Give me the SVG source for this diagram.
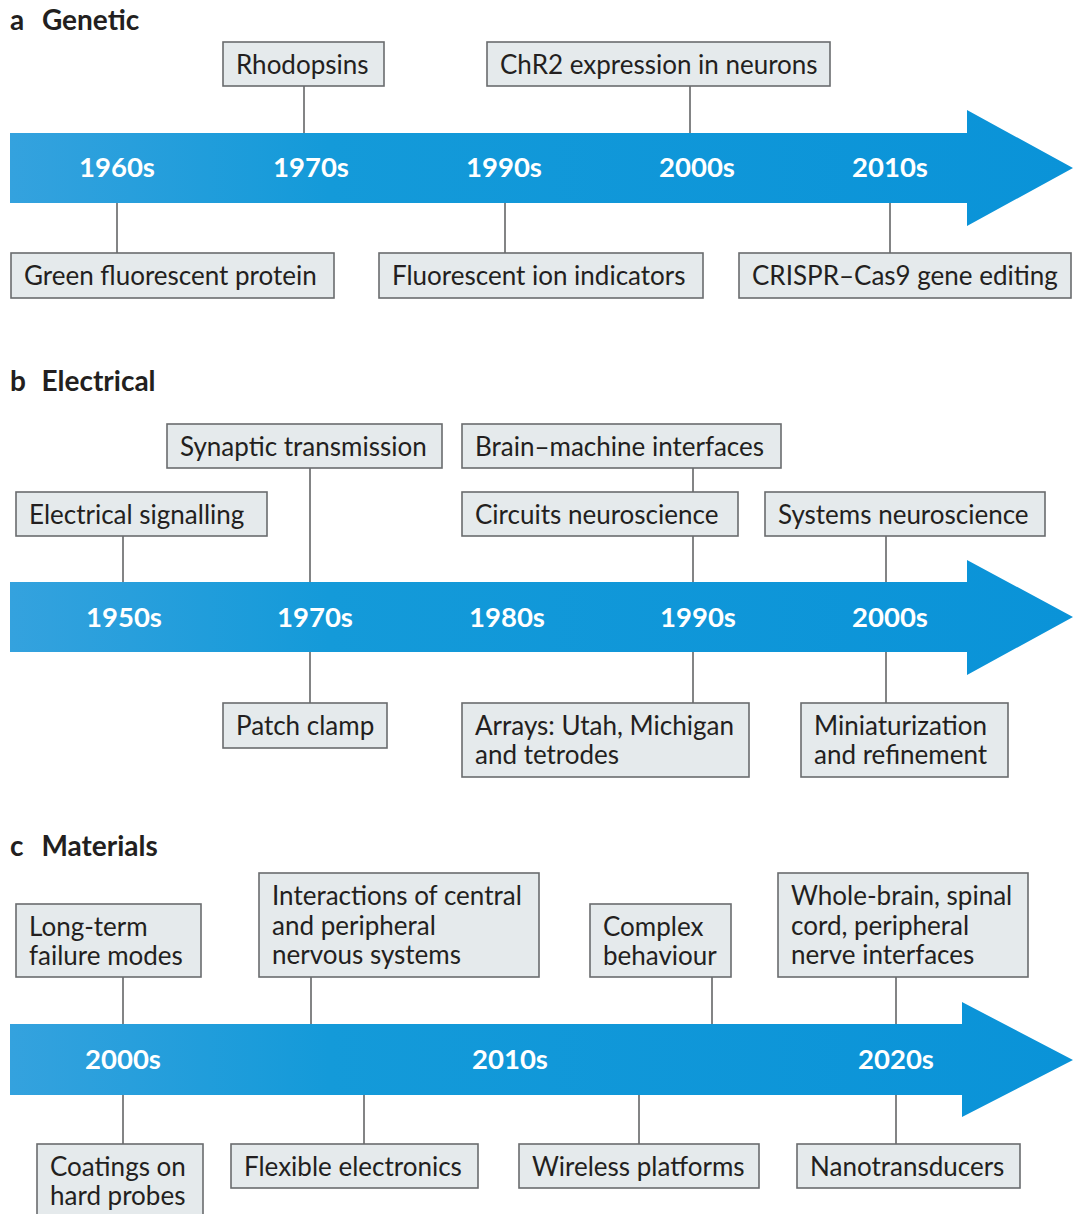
<svg xmlns="http://www.w3.org/2000/svg" width="1074" height="1214" viewBox="0 0 1074 1214">
<defs>
<linearGradient id="ag" x1="0" y1="0" x2="1" y2="0">
<stop offset="0" stop-color="#34a2de"/>
<stop offset="0.3" stop-color="#149ad9"/>
<stop offset="1" stop-color="#0a93d8"/>
</linearGradient>
<style>
.box{fill:#e5eaec;stroke:#6a6c6e;stroke-width:1.6}
.t{font-family:Lato,"Open Sans","Liberation Sans",sans-serif;font-size:26px;fill:#231f20}
.yr{font-family:Lato,"Open Sans","Liberation Sans",sans-serif;font-size:27.5px;font-weight:bold;fill:#ffffff;text-anchor:middle}
.ttl{font-family:Lato,"Open Sans","Liberation Sans",sans-serif;font-size:28px;font-weight:bold;fill:#231f20}
.ln{stroke:#5a5b5d;stroke-width:1.5;fill:none}
</style>
</defs>
<rect width="1074" height="1214" fill="#ffffff"/>

<!-- Titles -->
<text class="ttl" x="10" y="30">a<tspan dx="18">Genetic</tspan></text>
<text class="ttl" x="10" y="391">b<tspan dx="16">Electrical</tspan></text>
<text class="ttl" x="10" y="856">c<tspan dx="18">Materials</tspan></text>

<!-- Arrows -->
<g id="arrows">
<path d="M10,133 H967 V110 L1073,168 L967,226 V203 H10 Z" fill="url(#ag)"/>
<path d="M10,582 H967 V560 L1073,617 L967,675 V652 H10 Z" fill="url(#ag)"/>
<path d="M10,1024 H962 V1002 L1073,1060 L962,1117 V1095 H10 Z" fill="url(#ag)"/>
</g>

<!-- Connectors -->
<g id="connectors" class="ln">
<line x1="304" y1="86" x2="304" y2="133"/>
<line x1="690" y1="86" x2="690" y2="133"/>
<line x1="117" y1="203" x2="117" y2="253"/>
<line x1="505" y1="203" x2="505" y2="253"/>
<line x1="890" y1="203" x2="890" y2="253"/>

<line x1="310" y1="468" x2="310" y2="582"/>
<line x1="123" y1="536" x2="123" y2="582"/>
<line x1="693" y1="468" x2="693" y2="492"/>
<line x1="693" y1="536" x2="693" y2="582"/>
<line x1="886" y1="536" x2="886" y2="582"/>
<line x1="310" y1="652" x2="310" y2="703"/>
<line x1="693" y1="652" x2="693" y2="703"/>
<line x1="886" y1="652" x2="886" y2="703"/>

<line x1="123" y1="977" x2="123" y2="1024"/>
<line x1="311" y1="977" x2="311" y2="1024"/>
<line x1="712" y1="977" x2="712" y2="1024"/>
<line x1="896" y1="977" x2="896" y2="1024"/>
<line x1="123" y1="1095" x2="123" y2="1144"/>
<line x1="364" y1="1095" x2="364" y2="1144"/>
<line x1="639" y1="1095" x2="639" y2="1144"/>
<line x1="896" y1="1095" x2="896" y2="1144"/>
</g>

<!-- Year labels -->
<g id="years-a">
<text class="yr" x="117" y="177">1960s</text>
<text class="yr" x="311" y="177">1970s</text>
<text class="yr" x="504" y="177">1990s</text>
<text class="yr" x="697" y="177">2000s</text>
<text class="yr" x="890" y="177">2010s</text>
</g>
<g id="years-b">
<text class="yr" x="124" y="627">1950s</text>
<text class="yr" x="315" y="627">1970s</text>
<text class="yr" x="507" y="627">1980s</text>
<text class="yr" x="698" y="627">1990s</text>
<text class="yr" x="890" y="627">2000s</text>
</g>
<g id="years-c">
<text class="yr" x="123" y="1069">2000s</text>
<text class="yr" x="510" y="1069">2010s</text>
<text class="yr" x="896" y="1069">2020s</text>
</g>

<!-- Panel a nodes -->
<g id="rhodopsins"><rect class="box" x="223" y="42" width="161" height="44"/><text class="t" x="236" y="74">Rhodopsins</text></g>
<g id="chr2"><rect class="box" x="487" y="42" width="343" height="44"/><text class="t" x="500" y="74">ChR2 expression in neurons</text></g>
<g id="gfp"><rect class="box" x="11" y="253" width="323" height="45"/><text class="t" x="24" y="285">Green fluorescent protein</text></g>
<g id="ion-indicators"><rect class="box" x="379" y="253" width="324" height="45"/><text class="t" x="392" y="285">Fluorescent ion indicators</text></g>
<g id="crispr"><rect class="box" x="739" y="253" width="332" height="45"/><text class="t" x="752" y="285">CRISPR–Cas9 gene editing</text></g>

<!-- Panel b nodes -->
<g id="synaptic"><rect class="box" x="167" y="424" width="275" height="44"/><text class="t" x="180" y="456">Synaptic transmission</text></g>
<g id="electrical-signalling"><rect class="box" x="16" y="492" width="251" height="44"/><text class="t" x="29" y="524">Electrical signalling</text></g>
<g id="bmi"><rect class="box" x="462" y="424" width="319" height="44"/><text class="t" x="475" y="456">Brain–machine interfaces</text></g>
<g id="circuits"><rect class="box" x="462" y="492" width="276" height="44"/><text class="t" x="475" y="524">Circuits neuroscience</text></g>
<g id="systems"><rect class="box" x="765" y="492" width="280" height="44"/><text class="t" x="778" y="524">Systems neuroscience</text></g>
<g id="patch-clamp"><rect class="box" x="223" y="703" width="164" height="45"/><text class="t" x="236" y="735">Patch clamp</text></g>
<g id="arrays"><rect class="box" x="462" y="703" width="287" height="74"/><text class="t" x="475" y="735">Arrays: Utah, Michigan</text><text class="t" x="475" y="764">and tetrodes</text></g>
<g id="miniaturization"><rect class="box" x="801" y="703" width="207" height="74"/><text class="t" x="814" y="735">Miniaturization</text><text class="t" x="814" y="764">and refinement</text></g>

<!-- Panel c nodes -->
<g id="long-term"><rect class="box" x="16" y="904" width="185" height="73"/><text class="t" x="29" y="936">Long-term</text><text class="t" x="29" y="965">failure modes</text></g>
<g id="interactions"><rect class="box" x="259" y="873" width="280" height="104"/><text class="t" x="272" y="905">Interactions of central</text><text class="t" x="272" y="935">and peripheral</text><text class="t" x="272" y="964">nervous systems</text></g>
<g id="complex"><rect class="box" x="590" y="904" width="141" height="73"/><text class="t" x="603" y="936">Complex</text><text class="t" x="603" y="965">behaviour</text></g>
<g id="whole-brain"><rect class="box" x="778" y="873" width="250" height="104"/><text class="t" x="791" y="905">Whole-brain, spinal</text><text class="t" x="791" y="935">cord, peripheral</text><text class="t" x="791" y="964">nerve interfaces</text></g>
<g id="coatings"><rect class="box" x="37" y="1144" width="166" height="80"/><text class="t" x="50" y="1176">Coatings on</text><text class="t" x="50" y="1205">hard probes</text></g>
<g id="flexible"><rect class="box" x="231" y="1144" width="247" height="44"/><text class="t" x="244" y="1176">Flexible electronics</text></g>
<g id="wireless"><rect class="box" x="519" y="1144" width="240" height="44"/><text class="t" x="532" y="1176">Wireless platforms</text></g>
<g id="nano"><rect class="box" x="797" y="1144" width="223" height="44"/><text class="t" x="810" y="1176">Nanotransducers</text></g>
</svg>
